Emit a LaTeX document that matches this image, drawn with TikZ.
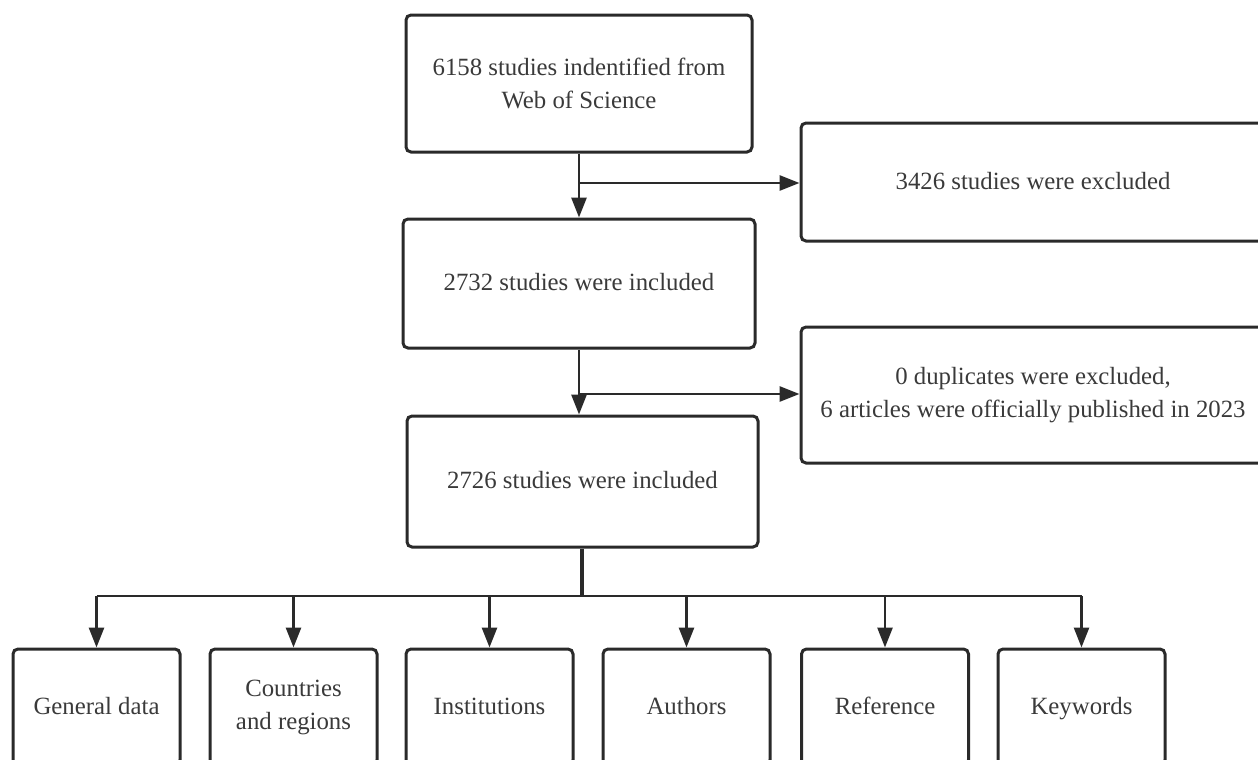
\documentclass[tikz,border=0pt]{standalone}
\usepackage{fontspec}
\setmainfont{Liberation Serif}
\usetikzlibrary{arrows.meta}
\definecolor{linec}{HTML}{2A2A2A}
\definecolor{textc}{HTML}{3A3A3A}
\begin{document}
\begin{tikzpicture}[x=0.5pt,y=-0.5pt,
  box/.style={draw=linec, line width=1.5pt, rounded corners=2.5pt, rectangle,
    align=center, text=textc, inner sep=0pt,
    font=\fontsize{12.4}{16.5}\selectfont},
  one/.style={text height=9.8pt, text depth=2.7pt},
  conn/.style={draw=linec, line width=1.4pt},
  arr/.style={conn, -{Triangle[length=10pt,width=7.5pt]}}]
\useasboundingbox (0,0) rectangle (1258,760);
\clip (0,0) rectangle (1258,760);
% main column
\node[box, minimum width=173pt, minimum height=68.5pt] (A) at (579,83.5)
  {6158 studies indentified from\\Web of Science};
\node[box, one, minimum width=176pt, minimum height=64.5pt] (B) at (579,283.5)
  {2732 studies were included};
\node[box, one, minimum width=175.5pt, minimum height=65.5pt] (C) at (582.5,481.5)
  {2726 studies were included};
% side boxes
\node[box, one, minimum width=232pt, minimum height=59pt] (R1) at (1033,182)
  {3426 studies were excluded};
\node[box, minimum width=232pt, minimum height=68pt] (R2) at (1033,395)
  {0 duplicates were excluded,\\6 articles were officially published in 2023};
% bottom boxes
\tikzset{leaf/.style={box, minimum width=83.5pt, minimum height=58pt}}
\node[leaf, one] (g1) at (96.5,707) {General data};
\node[leaf] (g2) at (293.5,707) {Countries\\and regions};
\node[leaf, one] (g3) at (489.5,707) {Institutions};
\node[leaf, one] (g4) at (686.5,707) {Authors};
\node[leaf, one] (g5) at (885,707) {Reference};
\node[leaf, one] (g6) at (1081.5,707) {Keywords};
% connectors
\coordinate (j1) at (579,183);
\coordinate (j2) at (579,394);
\coordinate (t) at (582,596);
\draw[arr] (A.south) -- (A.south |- B.north);
\draw[arr] (j1) -- (j1 -| R1.west);
\draw[arr] (B.south) -- (B.south |- C.north);
\draw[arr] (j2) -- (j2 -| R2.west);
\draw[conn, line width=2.2pt] (C.south -| t) -- (t);
\draw[conn] (g1.north |- t) -- (g6.north |- t);
\foreach \g in {g1,g2,g3,g4,g5,g6}
  \draw[arr] (\g.north |- t) -- (\g.north);
\end{tikzpicture}
\end{document}
